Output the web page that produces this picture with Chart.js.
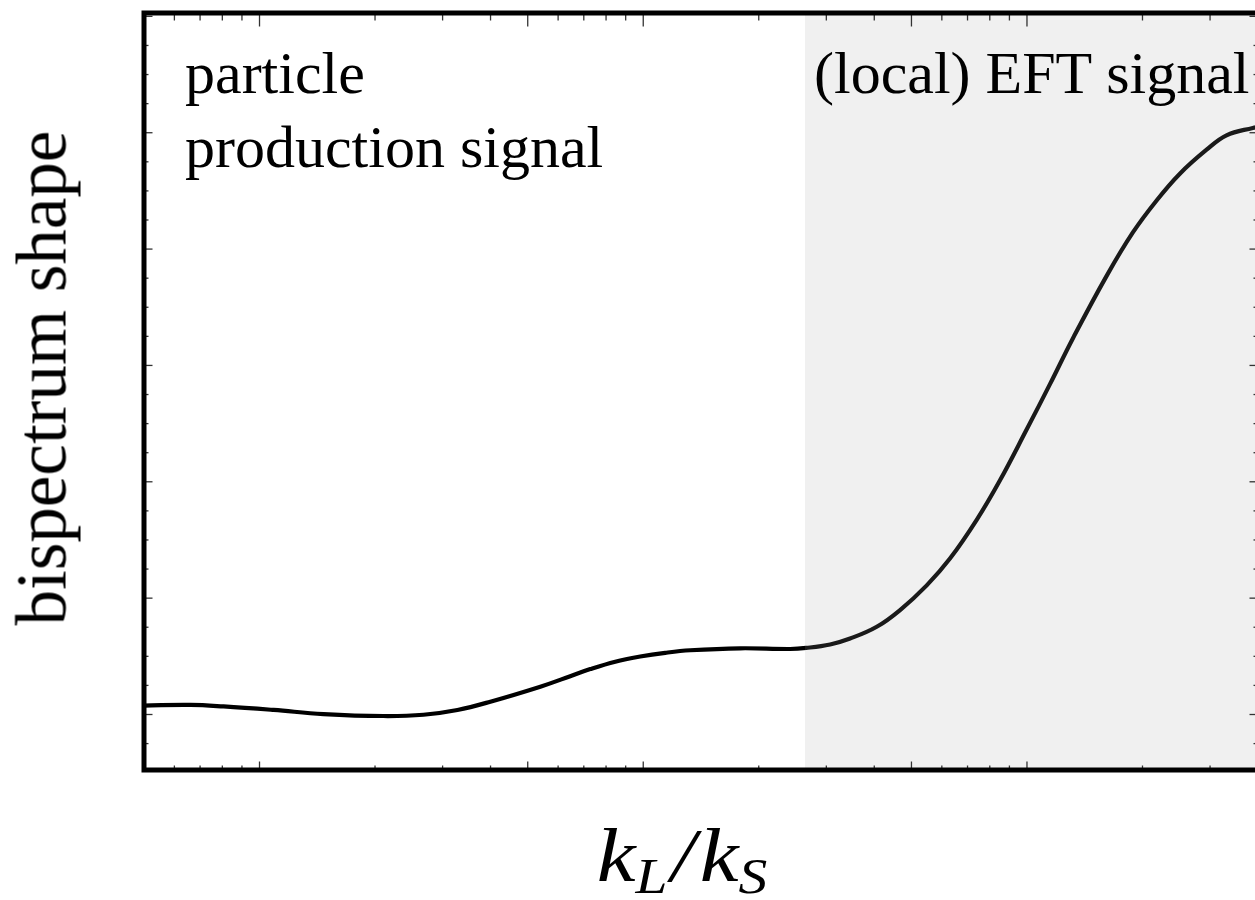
<!DOCTYPE html>
<html>
<head>
<meta charset="utf-8">
<script src="https://cdn.jsdelivr.net/npm/chart.js@4.4.1/dist/chart.umd.min.js"></script>
<style>
  html, body { margin: 0; padding: 0; background: #fff; overflow: hidden; }
  #wrap { position: relative; width: 1270px; height: 900px; }
  #c { position: absolute; left: 0; top: 0; }
  .ann { position: absolute; font-family: 'Liberation Serif', serif; font-size: 60px; line-height: 60px; color: #000; white-space: nowrap; }
  #ytitle { position: absolute; font-family: 'Liberation Serif', serif; font-size: 71px; line-height: 71px; white-space: nowrap;
            left: 42px; top: 378px; transform: translate(-50%, -50%) rotate(-90deg); }
  #xtitle { position: absolute; font-family: 'Liberation Serif', serif; font-style: italic; font-size: 76px; line-height: 76px; white-space: nowrap;
            left: 682px; top: 817px; transform: translateX(-50%) scaleX(1.15); }
  #xtitle sub { font-size: 50px; vertical-align: -12px; line-height: 0; }
  #xtitle .sl { margin: 0 4px 0 3px; }
</style>
</head>
<body>
<div id="wrap">
  <canvas id="c" width="1270" height="900"></canvas>
  <div class="ann" style="left:185px; top:43px;">particle</div>
  <div class="ann" style="left:185px; top:117px;">production signal</div>
  <div class="ann" style="left:814px; top:43px;">(local) EFT signal</div>
  <div id="ytitle">bispectrum shape</div>
  <div id="xtitle">k<sub>L</sub><span class="sl">/</span>k<sub>S</sub></div>
</div>
<script>
// ---- data ----
const kRatio = [0.5, 0.661, 0.806, 1.088, 1.468, 2.103, 2.674, 3.279, 3.996, 5.393, 6.264, 7.278, 8.454, 9.82, 11.41, 13.26, 17.89, 24.15, 26.58, 30.69, 34.6, 40.6, 46.7, 54.8, 63.0, 73.96, 85.06, 99.8, 114.8, 131.8, 161.3, 188.8, 217.7, 250.3, 293.8, 331.1, 387.7, 400];
const shapeValue = [0.077, 0.082, 0.069, 0.039, 0.004, -0.013, -0.002, 0.039, 0.110, 0.239, 0.314, 0.390, 0.454, 0.498, 0.530, 0.552, 0.569, 0.563, 0.572, 0.602, 0.653, 0.754, 0.898, 1.110, 1.340, 1.673, 2.013, 2.449, 2.839, 3.234, 3.770, 4.143, 4.418, 4.648, 4.854, 4.978, 5.041, 5.047];
const eftStart = 26.4;          // start of shaded "(local) EFT" region
const xRange = [0.5, 400];
const yRange = [-0.477, 6.029];
const xMajorTicks = [1, 5, 10, 50, 100];
const xMinorTicks = [0.6, 0.7, 0.8, 0.9, 2, 3, 4, 6, 7, 8, 9, 20, 30, 40, 60, 70, 80, 90, 200, 300];
const yMajorTicks = [0, 1, 2, 3, 4, 5, 6];
const yMinorTicks = [-0.25, 0.25, 0.5, 0.75, 1.25, 1.5, 1.75, 2.25, 2.5, 2.75, 3.25, 3.5, 3.75, 4.25, 4.5, 4.75, 5.25, 5.5, 5.75];

const shadePlugin = {
  id: 'shade',
  afterDatasetsDraw(chart) {
    const { ctx, chartArea: a, scales } = chart;
    const x0 = scales.x.getPixelForValue(eftStart);
    ctx.save();
    ctx.fillStyle = 'rgba(160,160,160,0.16)';
    ctx.fillRect(x0, a.top, a.right - x0, a.bottom - a.top);
    ctx.restore();
  }
};

const framePlugin = {
  id: 'frame',
  afterDraw(chart) {
    const { ctx, chartArea: a, scales } = chart;
    ctx.save();
    ctx.strokeStyle = '#333';
    ctx.lineWidth = 1.3;
    const line = (x1, y1, x2, y2) => { ctx.beginPath(); ctx.moveTo(x1, y1); ctx.lineTo(x2, y2); ctx.stroke(); };
    const xt = (v, lb, lt) => { const p = scales.x.getPixelForValue(v); line(p, a.bottom, p, a.bottom - lb); line(p, a.top, p, a.top + lt); };
    const yt = (v, l) => { const p = scales.y.getPixelForValue(v); line(a.left, p, a.left + l, p); line(a.right, p, a.right - l, p); };
    xMajorTicks.forEach(v => xt(v, 8.5, 13.5));
    xMinorTicks.forEach(v => xt(v, 4.5, 7.5));
    yMajorTicks.forEach(v => yt(v, 8.5));
    yMinorTicks.forEach(v => yt(v, 4.5));
    ctx.strokeStyle = '#000';
    ctx.lineWidth = 5;
    ctx.strokeRect(a.left, a.top, a.right - a.left, a.bottom - a.top);
    ctx.restore();
  }
};

new Chart(document.getElementById('c'), {
  type: 'line',
  data: {
    datasets: [{
      data: kRatio.map((x, i) => ({ x: x, y: shapeValue[i] })),
      borderColor: '#000',
      borderWidth: 4.2,
      pointRadius: 0,
      tension: 0.4,
      fill: false
    }]
  },
  options: {
    responsive: false,
    animation: false,
    devicePixelRatio: 1,
    layout: { padding: { left: 144, right: 12, top: 13, bottom: 130 } },
    plugins: { legend: { display: false }, tooltip: { enabled: false } },
    scales: {
      x: { type: 'logarithmic', min: xRange[0], max: xRange[1], display: false },
      y: { type: 'linear', min: yRange[0], max: yRange[1], display: false }
    }
  },
  plugins: [shadePlugin, framePlugin]
});
</script>
</body>
</html>
